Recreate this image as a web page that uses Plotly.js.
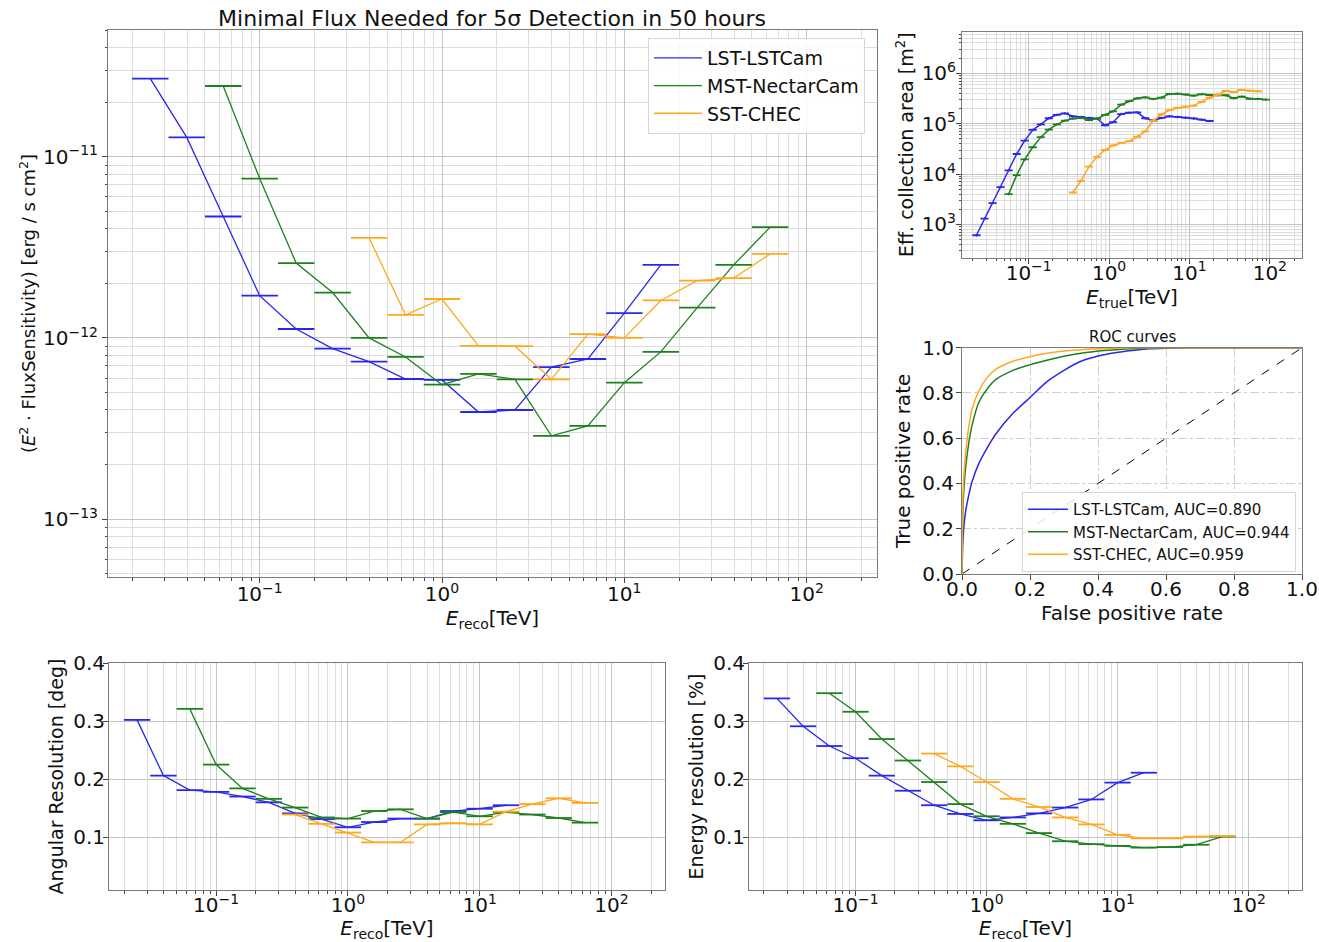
<!DOCTYPE html>
<html><head><meta charset="utf-8">
<script src="https://cdn.plot.ly/plotly-3.0.1.min.js"></script>
<style>body{margin:0;background:#fff}#chart{width:1319px;height:942px}</style>
</head><body><div id="chart"></div><script>
// ---------- data ----------
const telescopes = ['LST-LSTCam', 'MST-NectarCam', 'SST-CHEC'];
const aucValues = ['0.890', '0.944', '0.959'];

// reconstructed-energy bin centres [TeV] (0.2 decade bins)
const recoE = [0.02512, 0.03981, 0.06310, 0.1, 0.1585, 0.2512, 0.3981, 0.6310, 1.0, 1.585, 2.512, 3.981, 6.310, 10.0, 15.85, 25.12, 39.81, 63.10];

// sensitivity  E^2 * F  [erg s^-1 cm^-2]
const sensLST = [2.70e-11, 1.28e-11, 4.68e-12, 1.71e-12, 1.12e-12, 8.73e-13, 7.40e-13, 5.93e-13, 5.86e-13, 3.90e-13, 4.00e-13, 6.90e-13, 7.65e-13, 1.37e-12, 2.53e-12];
const sensMST = [2.46e-11, 7.58e-12, 2.59e-12, 1.78e-12, 1.00e-12, 7.85e-13, 5.52e-13, 6.33e-13, 5.91e-13, 2.88e-13, 3.27e-13, 5.66e-13, 8.37e-13, 1.47e-12, 2.53e-12, 4.09e-12];
const sensSST = [3.57e-12, 1.34e-12, 1.64e-12, 9.03e-13, 9.00e-13, 5.91e-13, 1.05e-12, 1.00e-12, 1.61e-12, 2.07e-12, 2.14e-12, 2.91e-12];

// angular resolution [deg]
const angLST = [0.302, 0.206, 0.181, 0.178, 0.170, 0.160, 0.141, 0.131, 0.117, 0.126, 0.132, 0.132, 0.145, 0.149, 0.155];
const angMST = [0.321, 0.225, 0.184, 0.166, 0.151, 0.134, 0.132, 0.145, 0.148, 0.132, 0.143, 0.136, 0.143, 0.139, 0.133, 0.125];
const angSST = [0.139, 0.123, 0.108, 0.091, 0.091, 0.122, 0.124, 0.122, 0.144, 0.157, 0.167, 0.159];

// energy resolution
const enLST = [0.339, 0.291, 0.257, 0.236, 0.206, 0.180, 0.155, 0.140, 0.129, 0.134, 0.141, 0.151, 0.165, 0.194, 0.211];
const enMST = [0.348, 0.316, 0.269, 0.232, 0.195, 0.157, 0.136, 0.123, 0.107, 0.093, 0.088, 0.085, 0.082, 0.083, 0.087, 0.101];
const enSST = [0.244, 0.222, 0.195, 0.166, 0.152, 0.134, 0.122, 0.104, 0.098, 0.098, 0.101, 0.102];

// true-energy bin centres [TeV] (0.1 decade bins)
const trueE = [0.02239, 0.02818, 0.03548, 0.04467, 0.05623, 0.07079, 0.08913, 0.1122, 0.1413, 0.1778, 0.2239, 0.2818, 0.3548, 0.4467, 0.5623, 0.7079, 0.8913, 1.122, 1.413, 1.778, 2.239, 2.818, 3.548, 4.467, 5.623, 7.079, 8.913, 11.22, 14.13, 17.78, 22.39, 28.18, 35.48, 44.67, 56.23, 70.79, 89.13];

// effective collection area [m^2]
const aeffLST = [610, 1300, 2650, 5500, 11800, 25000, 46000, 75000, 97000, 128000, 150000, 160000, 140000, 136000, 130000, 126000, 93000, 107000, 155000, 165000, 168000, 128000, 115000, 130000, 140000, 136000, 132000, 127000, 120000, 113000];
const aeffMST = [4000, 9500, 19500, 34000, 54000, 76000, 97000, 115000, 126000, 130000, 118000, 126000, 150000, 176000, 238000, 280000, 318000, 333000, 309000, 330000, 389000, 394000, 380000, 360000, 385000, 370000, 365000, 366000, 320000, 345000, 312000, 310000, 300000];
const aeffSST = [4300, 7300, 14000, 22000, 30000, 37000, 41500, 45000, 55000, 70000, 115000, 152000, 185000, 205000, 217000, 228000, 270000, 330000, 375000, 445000, 425000, 470000, 450000, 440000];

// ROC curves
const rocFprLST = [0, 0.002, 0.005, 0.01, 0.02, 0.03, 0.05, 0.075, 0.1, 0.15, 0.2, 0.25, 0.3, 0.35, 0.4, 0.45, 0.5, 0.55, 0.6, 0.7, 0.8, 0.9, 1.0];
const rocTprLST = [0, 0.12, 0.20, 0.27, 0.35, 0.41, 0.49, 0.56, 0.62, 0.71, 0.78, 0.85, 0.90, 0.94, 0.963, 0.978, 0.988, 0.995, 0.998, 1, 1, 1, 1];
const rocFprMST = [0, 0.002, 0.005, 0.01, 0.02, 0.03, 0.05, 0.075, 0.1, 0.15, 0.2, 0.25, 0.3, 0.35, 0.4, 0.5, 0.6, 0.8, 1.0];
const rocTprMST = [0, 0.25, 0.36, 0.46, 0.58, 0.66, 0.76, 0.82, 0.86, 0.90, 0.925, 0.945, 0.962, 0.975, 0.985, 0.995, 1, 1, 1];
const rocFprSST = [0, 0.002, 0.005, 0.01, 0.02, 0.03, 0.05, 0.075, 0.1, 0.15, 0.2, 0.25, 0.3, 0.4, 0.5, 0.6, 1.0];
const rocTprSST = [0, 0.30, 0.42, 0.52, 0.65, 0.73, 0.81, 0.87, 0.905, 0.94, 0.96, 0.975, 0.985, 0.995, 1, 1, 1];

// tick labels
const eTickVals = [0.1, 1, 10, 100];
const eTickText = ['10<sup>−1</sup>', '10<sup>0</sup>', '10<sup>1</sup>', '10<sup>2</sup>'];
const sTickVals = [1e-13, 1e-12, 1e-11];
const sTickText = ['10<sup>−13</sup>', '10<sup>−12</sup>', '10<sup>−11</sup>'];
const aTickVals = [1e3, 1e4, 1e5, 1e6];
const aTickText = ['10<sup>3</sup>', '10<sup>4</sup>', '10<sup>5</sup>', '10<sup>6</sup>'];

// ---------- style ----------
const colors = ['rgb(40,40,235)', 'rgb(30,128,30)', 'rgb(255,168,30)'];
const FONT = 'DejaVu Sans';
const W = 1319, H = 942;
const px = (a, b) => [a / W, b / W];
const py = (top, bot) => [1 - bot / H, 1 - top / H];

function minorVals(d0, d1) {
  const v = [];
  for (let d = d0; d <= d1; d++) for (let k = 2; k <= 9; k++) v.push(k * Math.pow(10, d));
  return v;
}

function binTrace(x, y, color, xa, ya, fac, opts) {
  return Object.assign({
    type: 'scatter', mode: 'lines', x: x, y: y, xaxis: xa, yaxis: ya,
    line: {color: color, width: 1.3},
    error_x: {type: 'data', symmetric: false,
      array: x.map(v => v * fac - v), arrayminus: x.map(v => v - v / fac),
      width: 0, thickness: 1.8, color: color},
    showlegend: false, hoverinfo: 'x+y'
  }, opts || {});
}

const fs = Math.pow(10, 0.1), fa = Math.pow(10, 0.05);
const traces = [];
// main sensitivity
[[recoE.slice(0, 15), sensLST], [recoE.slice(2, 18), sensMST], [recoE.slice(6, 18), sensSST]].forEach((d, i) => {
  traces.push(binTrace(d[0], d[1], colors[i], 'x', 'y', fs, {name: telescopes[i], showlegend: true, legend: 'legend'}));
});
// effective area
[[trueE.slice(0, 30), aeffLST], [trueE.slice(4, 37), aeffMST], [trueE.slice(12, 36), aeffSST]].forEach((d, i) => {
  traces.push(binTrace(d[0], d[1], colors[i], 'x2', 'y2', fa, {line: {color: colors[i], width: 1.5},
    error_y: {type: 'percent', value: 6, width: 0, thickness: 1, color: colors[i]}}));
});
// ROC
traces.push({type: 'scatter', mode: 'lines', x: [0, 1], y: [0, 1], xaxis: 'x3', yaxis: 'y3',
  line: {color: 'black', width: 1, dash: 'dash'}, showlegend: false, hoverinfo: 'skip'});
[[rocFprLST, rocTprLST], [rocFprMST, rocTprMST], [rocFprSST, rocTprSST]].forEach((d, i) => {
  traces.push({type: 'scatter', mode: 'lines', x: d[0], y: d[1], xaxis: 'x3', yaxis: 'y3',
    line: {color: colors[i], width: 1.5, shape: 'spline', smoothing: 0.6},
    name: telescopes[i] + ', AUC=' + aucValues[i], showlegend: true, legend: 'legend2'});
});
// angular resolution
[[recoE.slice(0, 15), angLST], [recoE.slice(2, 18), angMST], [recoE.slice(6, 18), angSST]].forEach((d, i) => {
  traces.push(binTrace(d[0], d[1], colors[i], 'x4', 'y4', fs));
});
// energy resolution
[[recoE.slice(0, 15), enLST], [recoE.slice(2, 18), enMST], [recoE.slice(6, 18), enSST]].forEach((d, i) => {
  traces.push(binTrace(d[0], d[1], colors[i], 'x5', 'y5', fs));
});

const GRID = '#c4c4c4', MINOR = '#dddddd', LINE = '#7a7a7a';
const tickFont = {family: FONT, size: 20, color: '#111'};
function baseAxis(extra) {
  return Object.assign({
    showline: true, mirror: true, linecolor: LINE, linewidth: 1,
    ticks: 'outside', ticklen: 5, tickcolor: '#444', tickfont: tickFont,
    showgrid: true, gridcolor: GRID, gridwidth: 1, zeroline: false
  }, extra);
}
function logAxis(extra, tv, tt, mv) {
  return baseAxis(Object.assign({
    type: 'log', tickmode: 'array', tickvals: tv, ticktext: tt,
    minor: {tickmode: 'array', tickvals: mv, ticks: 'outside', ticklen: 2.5, tickcolor: '#444', showgrid: true, gridcolor: MINOR}
  }, extra));
}
const eMinor = minorVals(-2, 2);
const titleFont = {family: FONT, size: 20, color: '#111'};
const ytFont = {family: FONT, size: 19, color: '#111'};

const layout = {
  width: W, height: H, autosize: false,
  margin: {l: 0, r: 0, t: 0, b: 0},
  paper_bgcolor: 'white', plot_bgcolor: 'white',
  font: {family: FONT, color: '#111'},
  title: {text: 'Minimal Flux Needed for 5σ Detection in 50 hours', x: 492 / W, y: 1 - 18 / H,
    xanchor: 'center', yanchor: 'middle', font: {family: FONT, size: 22, color: '#111'}},
  xaxis: logAxis({domain: px(108, 877), anchor: 'y', range: [-1.832, 2.386], ticklabelstandoff: -6,
    title: {text: '<i>E</i><sub>reco</sub>[TeV]', font: titleFont, standoff: 4}}, eTickVals, eTickText, eMinor),
  yaxis: logAxis({domain: py(30, 577), anchor: 'x', range: [-13.32, -10.30],
    title: {text: '(<i>E</i><sup>2</sup> · FluxSensitivity) [erg / s cm<sup>2</sup>]', font: {family: FONT, size: 18, color: '#111'}, standoff: 2}},
    sTickVals, sTickText, minorVals(-14, -11)),
  xaxis2: logAxis({domain: px(962, 1302), anchor: 'y2', range: [-1.83, 2.40], ticklabelstandoff: -8,
    title: {text: '<i>E</i><sub>true</sub>[TeV]', font: titleFont, standoff: 4}}, eTickVals, eTickText, eMinor),
  yaxis2: logAxis({domain: py(31.7, 257.7), anchor: 'x2', range: [2.34, 6.825], ticklabelstandoff: -4,
    title: {text: 'Eff. collection area [m<sup>2</sup>]', font: ytFont, standoff: 2}},
    aTickVals, aTickText, minorVals(2, 6)),
  xaxis3: baseAxis({domain: px(962, 1302), anchor: 'y3', range: [0, 1], dtick: 0.2, tickformat: '.1f',
    griddash: 'dashdot', gridcolor: '#cfcfcf', ticklabelstandoff: -8,
    title: {text: 'False positive rate', font: titleFont, standoff: 4}}),
  yaxis3: baseAxis({domain: py(347.7, 574), anchor: 'x3', range: [0, 1], dtick: 0.2, tickformat: '.1f',
    griddash: 'dashdot', gridcolor: '#cfcfcf', ticklabelstandoff: -2,
    title: {text: 'True positive rate', font: titleFont, standoff: 6}}),
  xaxis4: logAxis({domain: px(109, 665), anchor: 'y4', range: [-1.813, 2.407], ticklabelstandoff: -8,
    title: {text: '<i>E</i><sub>reco</sub>[TeV]', font: titleFont, standoff: 10}}, eTickVals, eTickText, eMinor),
  yaxis4: baseAxis({domain: py(663, 890), anchor: 'x4', range: [0.009, 0.4], tickvals: [0.1, 0.2, 0.3, 0.4], tickformat: '.1f',
    ticklabelstandoff: -6,
    title: {text: 'Angular Resolution [deg]', font: ytFont, standoff: 4}}),
  xaxis5: logAxis({domain: px(749, 1302), anchor: 'y5', range: [-1.813, 2.407], ticklabelstandoff: -8,
    title: {text: '<i>E</i><sub>reco</sub>[TeV]', font: titleFont, standoff: 10}}, eTickVals, eTickText, eMinor),
  yaxis5: baseAxis({domain: py(663, 890), anchor: 'x5', range: [0.009, 0.4], tickvals: [0.1, 0.2, 0.3, 0.4], tickformat: '.1f',
    ticklabelstandoff: -6,
    title: {text: 'Energy resolution [%]', font: ytFont, standoff: 4}}),
  legend: {x: 648 / W, y: 1 - 38 / H, xanchor: 'left', yanchor: 'top', bgcolor: 'rgba(255,255,255,0.85)',
    bordercolor: '#d6d6d6', borderwidth: 1, font: {family: FONT, size: 19, color: '#111'}, itemwidth: 48},
  legend2: {x: 1022 / W, y: 1 - 492 / H, xanchor: 'left', yanchor: 'top', bgcolor: 'rgba(255,255,255,0.85)',
    bordercolor: '#d6d6d6', borderwidth: 1, font: {family: FONT, size: 15, color: '#111'}, itemwidth: 40},
  annotations: [{text: 'ROC curves', xref: 'paper', yref: 'paper', x: 1132 / W, y: 1 - 337 / H,
    xanchor: 'center', yanchor: 'middle', showarrow: false, font: {family: FONT, size: 15, color: '#111'}}]
};

Plotly.newPlot('chart', traces, layout, {displayModeBar: false, staticPlot: true});
</script></body></html>
